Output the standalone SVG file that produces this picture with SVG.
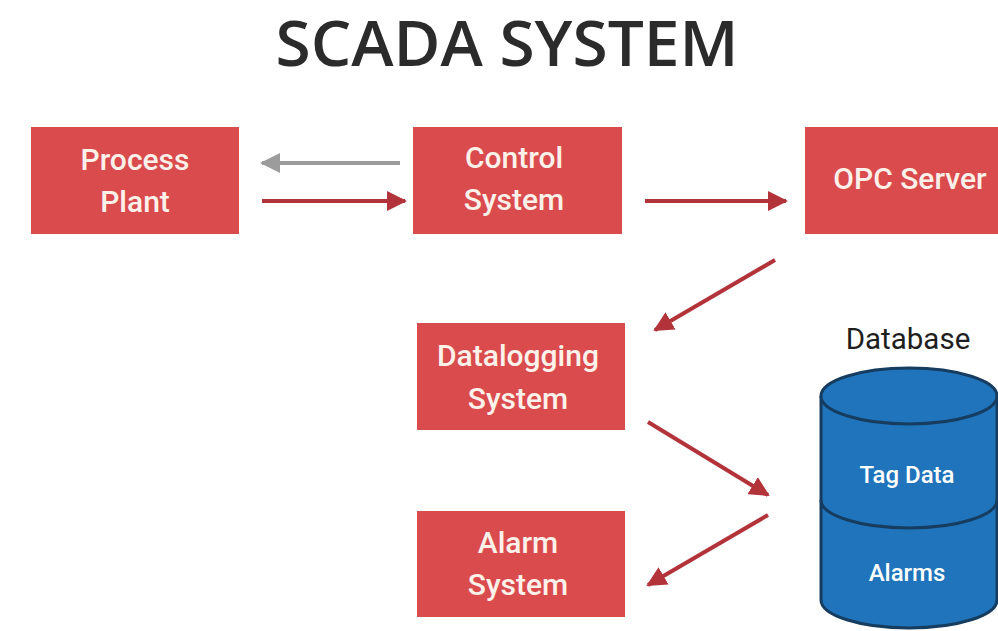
<svg xmlns="http://www.w3.org/2000/svg" width="998" height="631" viewBox="0 0 998 631">
<style>
.box{fill:#da4b4e}
.bt{font-family:Roboto,"Liberation Sans",sans-serif;font-weight:500;font-size:30px;fill:#fdf1ea;text-anchor:middle}
.dt{font-family:Roboto,"Liberation Sans",sans-serif;font-weight:500;font-size:24px;fill:#ffffff;text-anchor:middle}
.conn{stroke:#b3333a;stroke-width:4;fill:none;marker-end:url(#ah)}
.gray{stroke:#9c9c9c;stroke-width:4;fill:none;marker-end:url(#ag)}
.cyl{fill:#1f74bb;stroke:#163c5f;stroke-width:3}
</style>
<defs>
<marker id="ah" viewBox="0 0 10 10" refX="9" refY="5" markerWidth="5" markerHeight="5" orient="auto" markerUnits="strokeWidth">
<path d="M0,0 L10,5 L0,10 z" fill="#b3333a"/>
</marker>
<marker id="ag" viewBox="0 0 10 10" refX="9" refY="5" markerWidth="5" markerHeight="5" orient="auto" markerUnits="strokeWidth">
<path d="M0,0 L10,5 L0,10 z" fill="#9c9c9c"/>
</marker>
</defs>
<rect width="998" height="631" fill="#ffffff"/>
<text x="507" y="66" font-family="'Open Sans','Liberation Sans',sans-serif" font-weight="600" font-size="64" fill="#2b2b2b" text-anchor="middle">SCADA SYSTEM</text>

<g id="process-plant">
<rect class="box" x="31" y="127" width="208" height="107"/>
<text class="bt" x="135" y="170">Process</text>
<text class="bt" x="135" y="212">Plant</text>
</g>
<g id="control-system">
<rect class="box" x="413" y="127" width="209" height="107"/>
<text class="bt" x="514" y="168">Control</text>
<text class="bt" x="514" y="210">System</text>
</g>
<g id="opc-server">
<rect class="box" x="805" y="127" width="193" height="107"/>
<text class="bt" x="910" y="189">OPC Server</text>
</g>
<g id="datalogging-system">
<rect class="box" x="417" y="323" width="208" height="107"/>
<text class="bt" x="518" y="366">Datalogging</text>
<text class="bt" x="518" y="409">System</text>
</g>
<g id="alarm-system">
<rect class="box" x="417" y="511" width="208" height="106"/>
<text class="bt" x="518" y="553">Alarm</text>
<text class="bt" x="518" y="595">System</text>
</g>
<g id="database">
<text x="908" y="349" font-family="Roboto,'Liberation Sans',sans-serif" font-size="29.5" fill="#1e1e1e" text-anchor="middle">Database</text>
<path class="cyl" d="M821,396 L821,600 A88,28 0 0 0 997,600 L997,396"/>
<path class="cyl" d="M821,500 A88,28 0 0 0 997,500" style="fill:none"/>
<ellipse class="cyl" cx="909" cy="396" rx="88" ry="28"/>
<text class="dt" x="907" y="483">Tag Data</text>
<text class="dt" x="907" y="581">Alarms</text>
</g>

<g id="connectors">
<line class="gray" x1="400" y1="163" x2="262" y2="163"/>
<line class="conn" x1="262" y1="201" x2="405" y2="201"/>
<line class="conn" x1="645" y1="201" x2="786" y2="201"/>
<line class="conn" x1="775" y1="260" x2="655" y2="330"/>
<line class="conn" x1="648" y1="422" x2="768" y2="495"/>
<line class="conn" x1="768" y1="515" x2="648" y2="585"/>
</g>
</svg>
